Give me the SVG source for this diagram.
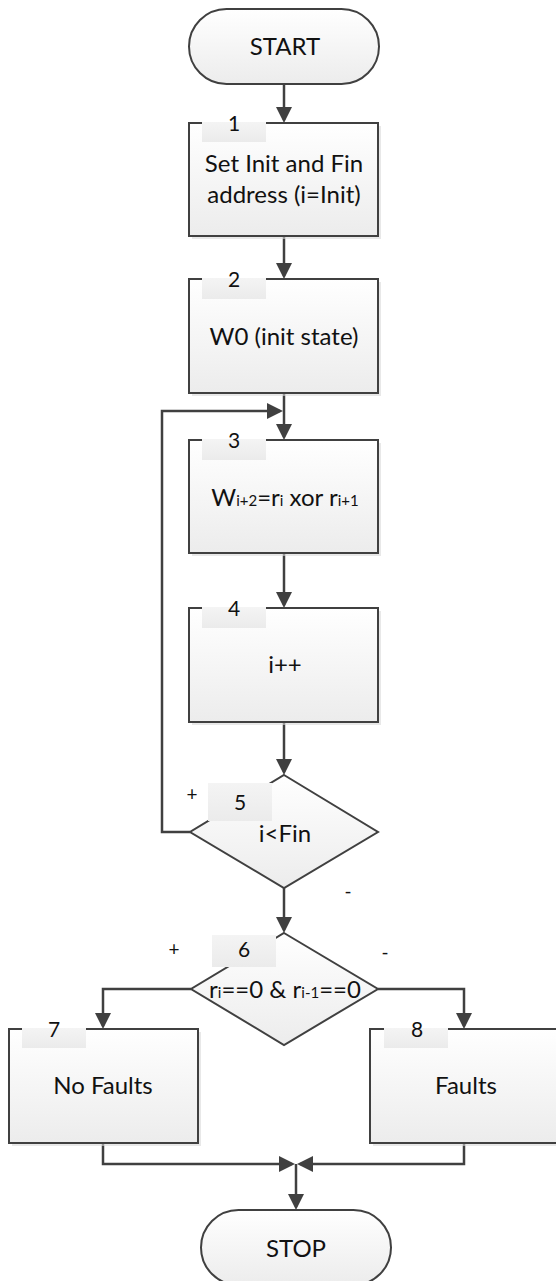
<svg xmlns="http://www.w3.org/2000/svg" width="556" height="1281" viewBox="0 0 556 1281">
<defs>
<linearGradient id="gFill" x1="0" y1="0" x2="0" y2="1">
<stop offset="0" stop-color="#ffffff"/>
<stop offset="1" stop-color="#ececec"/>
</linearGradient>
<linearGradient id="gTab" x1="0" y1="0" x2="0" y2="1">
<stop offset="0" stop-color="#f4f4f4"/>
<stop offset="1" stop-color="#ebebeb"/>
</linearGradient>
<marker id="arr" viewBox="0 0 16 16" refX="13" refY="8" markerWidth="16" markerHeight="16" markerUnits="userSpaceOnUse" orient="auto">
<path d="M0,0 L16,8 L0,16 z" fill="#404040"/>
</marker>
</defs>
<style>
.shape{fill:url(#gFill);stroke:#404040;stroke-width:2}
.shadow{fill:#d8d8d8;opacity:0.6}
.tab{fill:url(#gTab);stroke:none}
.conn{fill:none;stroke:#404040;stroke-width:2.5;marker-end:url(#arr)}
.t{font-family:Lato,"Liberation Sans",sans-serif;font-size:24px;fill:#111;text-anchor:middle}
.n{font-family:Lato,"Liberation Sans",sans-serif;font-size:21px;fill:#111;text-anchor:middle}
.s{font-size:15px}
.lbl{font-family:Lato,"Liberation Sans",sans-serif;font-size:19px;fill:#111;text-anchor:middle}
</style>
<rect width="556" height="1281" fill="#ffffff"/>

<g id="connectors">
<path class="conn" d="M284,84 V120"/>
<path class="conn" d="M284,236 V276"/>
<path class="conn" d="M284,393 V437"/>
<path class="conn" d="M190,832 H162 V411 H280"/>
<path class="conn" d="M284,553 V605"/>
<path class="conn" d="M284,722 V772"/>
<path class="conn" d="M284,888 V930"/>
<path class="conn" d="M191,989 H103 V1026"/>
<path class="conn" d="M378,989 H464 V1026"/>
<path class="conn" d="M103,1143 V1164 H292"/>
<path class="conn" d="M464,1143 V1164 H300"/>
<path class="conn" d="M296,1164 V1207"/>
</g>

<g id="start">
<rect x="189" y="9" width="190" height="75" rx="37.5" class="shape"/>
<text x="285" y="55" class="t">START</text>
</g>

<g id="node1">
<rect x="192" y="126" width="189" height="113" class="shadow"/>
<rect x="189" y="123" width="189" height="113" class="shape"/>
<rect x="202" y="122" width="64" height="20" class="tab"/>
<text x="234" y="131" class="n">1</text>
<text x="284" y="172" class="t">Set Init and Fin</text>
<text x="284" y="203" class="t">address (i=Init)</text>
</g>

<g id="node2">
<rect x="192" y="282" width="189" height="114" class="shadow"/>
<rect x="189" y="279" width="189" height="114" class="shape"/>
<rect x="202" y="278" width="64" height="21" class="tab"/>
<text x="234" y="287" class="n">2</text>
<text x="284" y="345" class="t">W0 (init state)</text>
</g>

<g id="node3">
<rect x="192" y="443" width="189" height="113" class="shadow"/>
<rect x="189" y="440" width="189" height="113" class="shape"/>
<rect x="202" y="439" width="64" height="21" class="tab"/>
<text x="234" y="448" class="n">3</text>
<text x="285" y="506" class="t">W<tspan class="s">i+2</tspan>=r<tspan class="s">i</tspan> xor r<tspan class="s">i+1</tspan></text>
</g>

<g id="node4">
<rect x="192" y="611" width="189" height="114" class="shadow"/>
<rect x="189" y="608" width="189" height="114" class="shape"/>
<rect x="202" y="607" width="64" height="21" class="tab"/>
<text x="234" y="616" class="n">4</text>
<text x="285" y="673" class="t">i++</text>
</g>

<g id="node5">
<polygon points="284,775 378,832 284,888 190,832" class="shape"/>
<rect x="208" y="783" width="64" height="38" class="tab"/>
<text x="240" y="810" class="n">5</text>
<text x="285" y="842" class="t">i&lt;Fin</text>
<text x="192" y="801" class="lbl">+</text>
<text x="348" y="898" class="lbl">-</text>
</g>

<g id="node6">
<polygon points="284,933 378,989 284,1045 191,989" class="shape"/>
<rect x="212" y="935" width="64" height="32" class="tab"/>
<text x="244" y="957" class="n">6</text>
<text x="285" y="998" class="t">r<tspan class="s">i</tspan>==0 &amp; r<tspan class="s">i-1</tspan>==0</text>
<text x="174" y="956" class="lbl">+</text>
<text x="385" y="959" class="lbl">-</text>
</g>

<g id="node7">
<rect x="12" y="1032" width="189" height="114" class="shadow"/>
<rect x="9" y="1029" width="189" height="114" class="shape"/>
<rect x="22" y="1028" width="64" height="20" class="tab"/>
<text x="54" y="1037" class="n">7</text>
<text x="103" y="1094" class="t">No Faults</text>
</g>

<g id="node8">
<rect x="373" y="1032" width="189" height="114" class="shadow"/>
<rect x="370" y="1029" width="189" height="114" class="shape"/>
<rect x="384" y="1028" width="64" height="20" class="tab"/>
<text x="417" y="1037" class="n">8</text>
<text x="466" y="1094" class="t">Faults</text>
</g>

<g id="stop">
<rect x="201" y="1210" width="190" height="75" rx="37.5" class="shape"/>
<text x="296" y="1257" class="t">STOP</text>
</g>
</svg>
